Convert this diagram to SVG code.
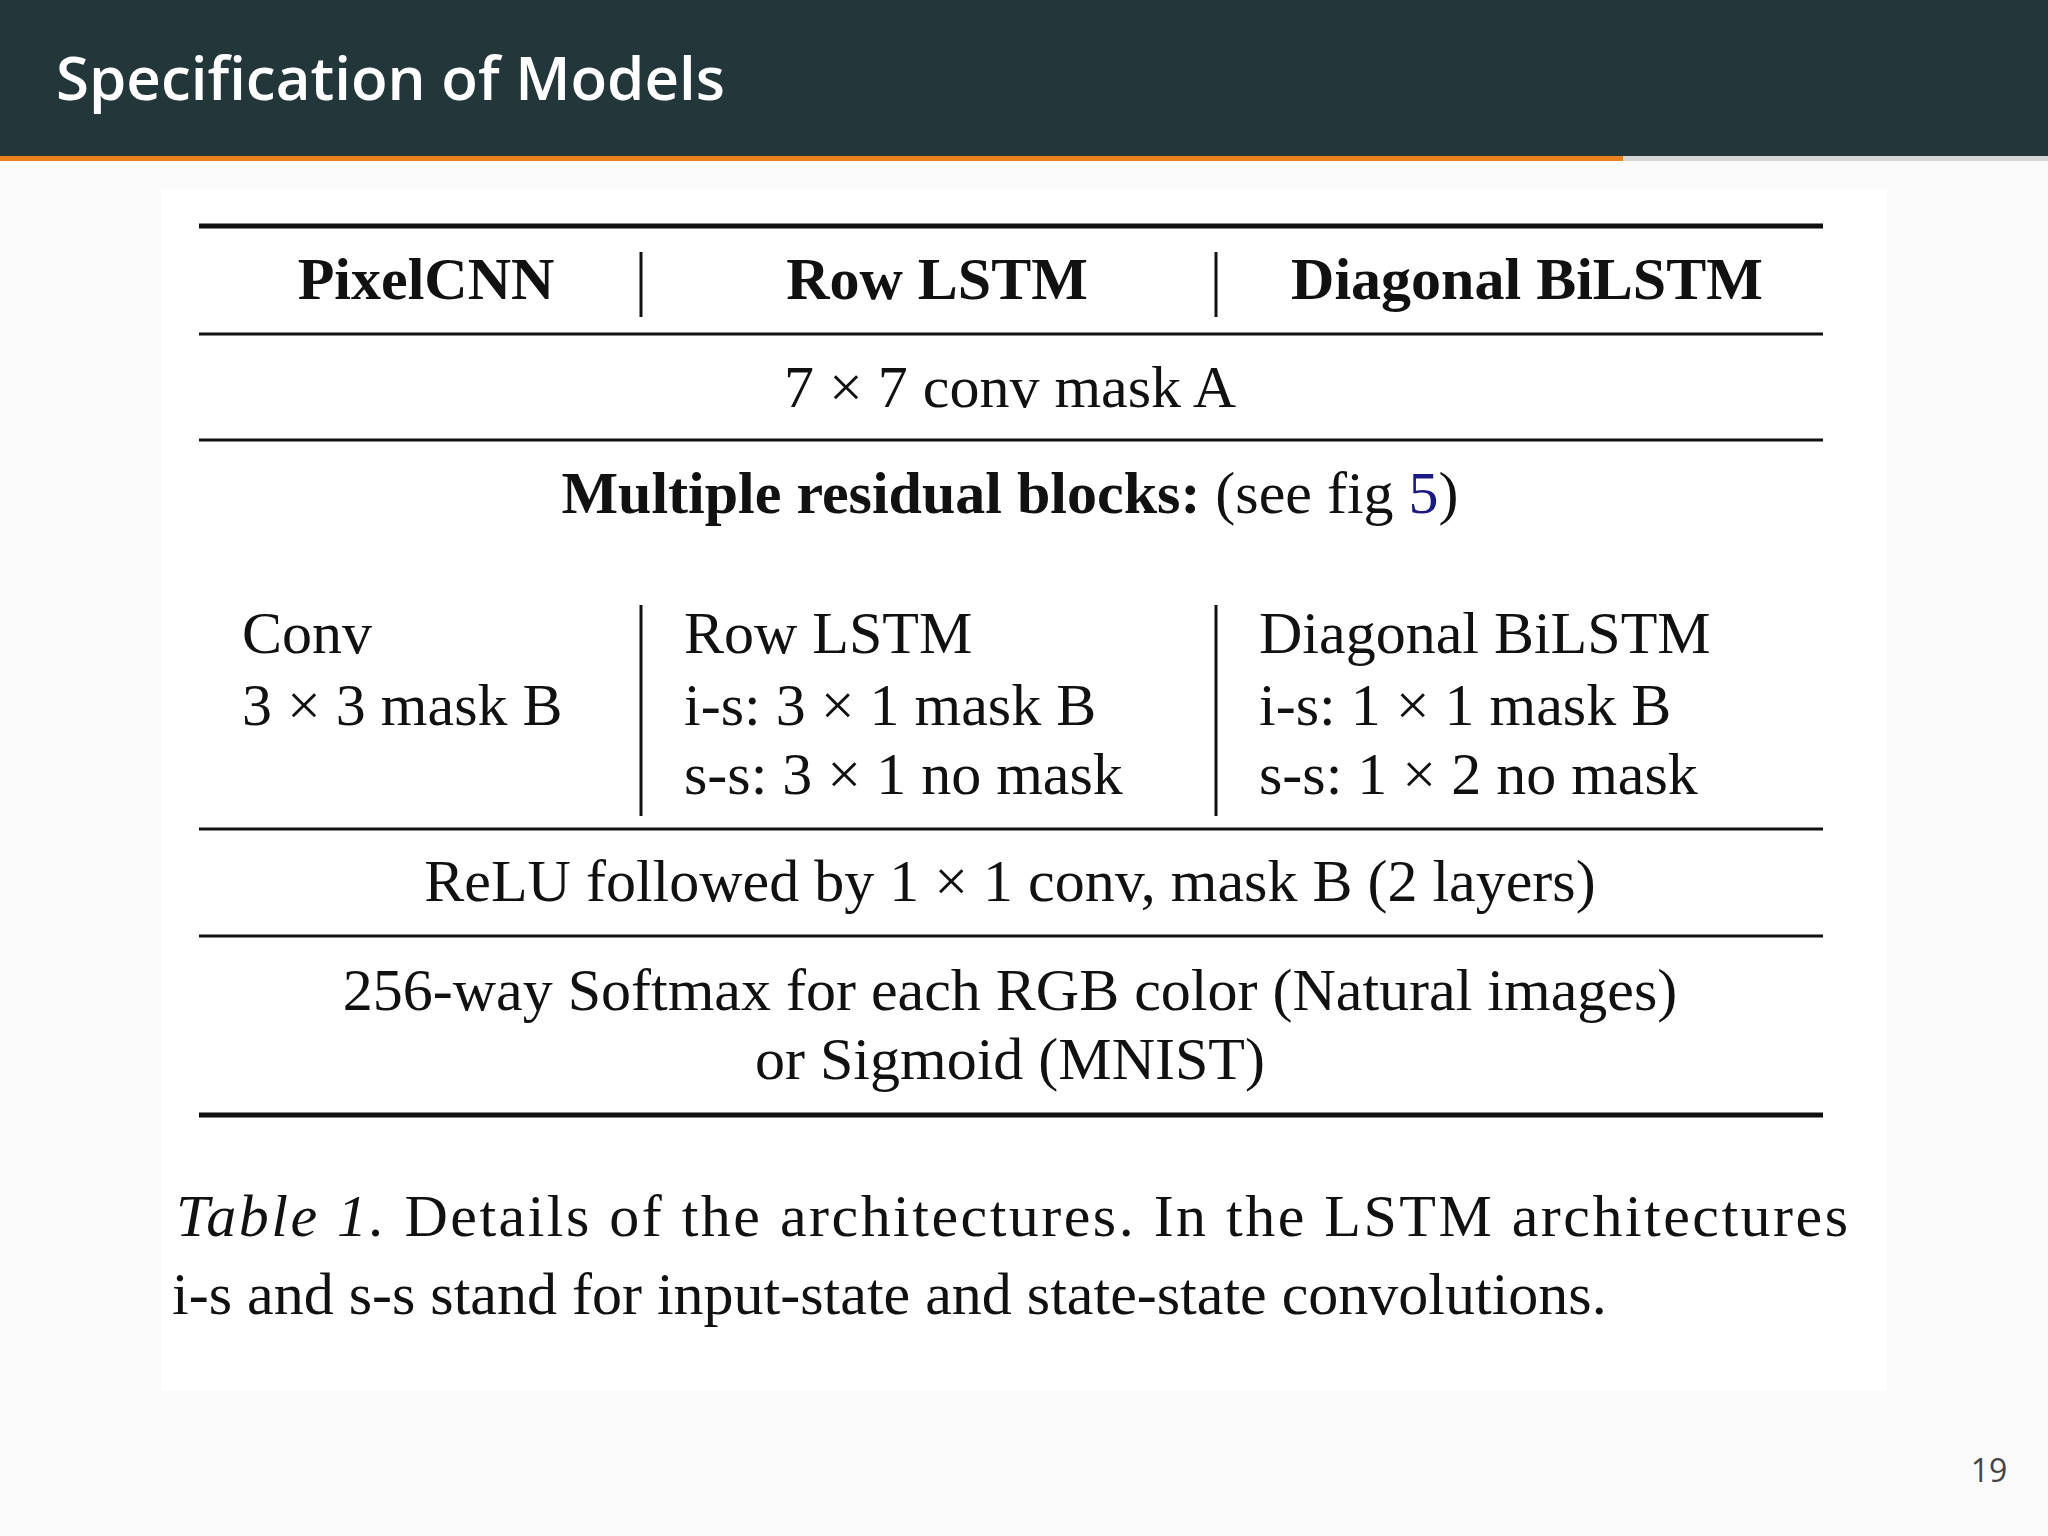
<svg xmlns="http://www.w3.org/2000/svg" width="2048" height="1536" viewBox="0 0 2048 1536">
<style>
.t{font-family:"Liberation Serif","Times New Roman",serif;font-size:60px;fill:#111}
.b{font-weight:bold}
.c{text-anchor:middle}
.ln{stroke:#111;stroke-width:3}
.thk{stroke:#111;stroke-width:5}
</style>
<rect width="2048" height="1536" fill="#fafafa"/>
<rect x="0" y="0" width="2048" height="157" fill="#23373b"/>
<rect x="0" y="156" width="1623" height="5" fill="#eb811b"/>
<rect x="1623" y="156" width="425" height="5" fill="#d6d6d6"/>
<text x="56" y="100" font-family="'Open Sans','DejaVu Sans',sans-serif" font-size="60" fill="#fff" font-weight="600">Specification of Models</text>
<rect x="161" y="189" width="1726" height="1202" fill="#fff"/>
<g id="table">
<line class="thk" x1="199" y1="226" x2="1823" y2="226"/>
<line class="ln" x1="199" y1="334" x2="1823" y2="334"/>
<line class="ln" x1="199" y1="440" x2="1823" y2="440"/>
<line class="ln" x1="199" y1="829" x2="1823" y2="829"/>
<line class="ln" x1="199" y1="936" x2="1823" y2="936"/>
<line class="thk" x1="199" y1="1115" x2="1823" y2="1115"/>
<line class="ln" x1="641" y1="252" x2="641" y2="317"/>
<line class="ln" x1="1216" y1="252" x2="1216" y2="317"/>
<line class="ln" x1="641" y1="605" x2="641" y2="816"/>
<line class="ln" x1="1216" y1="605" x2="1216" y2="816"/>
<text class="t b c" x="426" y="299">PixelCNN</text>
<text class="t b c" x="937" y="299">Row LSTM</text>
<text class="t b c" x="1527" y="299">Diagonal BiLSTM</text>
<text class="t c" x="1010" y="407">7 × 7 conv mask A</text>
<text class="t c" x="1010" y="513"><tspan class="b">Multiple residual blocks:</tspan> (see fig <tspan fill="#1a1a80">5</tspan>)</text>
<text class="t" x="242" y="653">Conv</text>
<text class="t" x="242" y="725">3 × 3 mask B</text>
<text class="t" x="684" y="653">Row LSTM</text>
<text class="t" x="684" y="725">i-s: 3 × 1 mask B</text>
<text class="t" x="684" y="794">s-s: 3 × 1 no mask</text>
<text class="t" x="1259" y="653">Diagonal BiLSTM</text>
<text class="t" x="1259" y="725">i-s: 1 × 1 mask B</text>
<text class="t" x="1259" y="794">s-s: 1 × 2 no mask</text>
<text class="t c" x="1010" y="901">ReLU followed by 1 × 1 conv, mask B (2 layers)</text>
<text class="t c" x="1010" y="1010">256-way Softmax for each RGB color (Natural images)</text>
<text class="t c" x="1010" y="1079">or Sigmoid (MNIST)</text>
</g>
<text class="t" x="176" y="1236" textLength="1672" lengthAdjust="spacing"><tspan font-style="italic">Table 1.</tspan> Details of the architectures.  In the LSTM architectures</text>
<text class="t" x="172" y="1314">i-s and s-s stand for input-state and state-state convolutions.</text>
<text x="1989" y="1482" text-anchor="middle" font-family="'Open Sans',sans-serif" font-size="32" fill="#444">19</text>
</svg>
